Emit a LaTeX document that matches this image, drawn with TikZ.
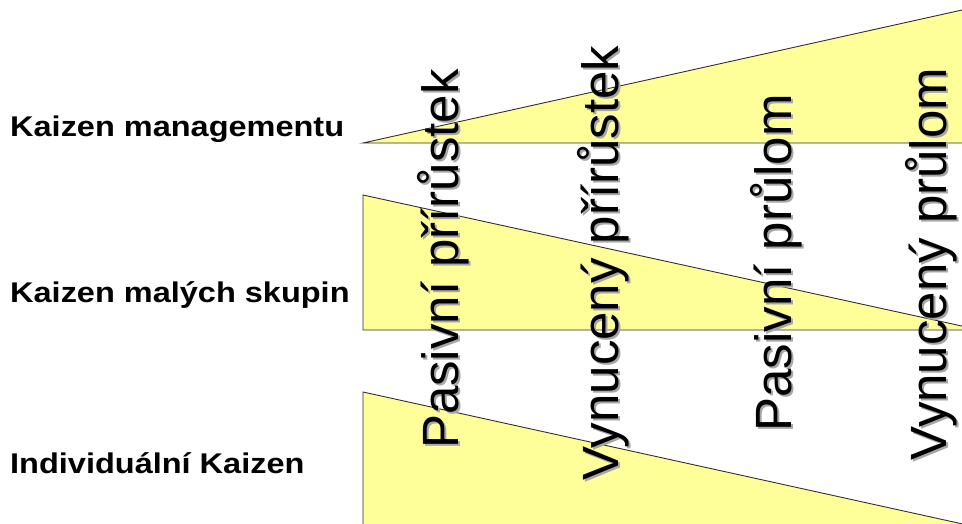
\documentclass[tikz,border=0pt]{standalone}
\usepackage{fontspec}
\setmainfont{Liberation Sans}
\definecolor{wedgefill}{HTML}{FFFF99}
\definecolor{wedgeedge}{HTML}{303030}
\begin{document}
\begin{tikzpicture}[x=1pt,y=-1pt,
  wedge/.style={fill=wedgefill, draw=wedgeedge, line width=0.9pt, line join=miter},
  rowlabel/.style={anchor=base west, inner sep=0pt, font=\fontsize{28.5}{32}\selectfont\bfseries},
  vtext/.style={anchor=base, rotate=90, inner sep=0pt, font=\fontsize{51}{60}\selectfont},
  vshadow/.style={vtext, text=black!35}]
\useasboundingbox (0,0) rectangle (962,524);
\fill[white] (0,0) rectangle (962,524);

% three wedges, cut off at the right and bottom edges
\begin{scope}
  \clip (0,0) rectangle (962,524);
  \draw[wedge] (363,143) -- (1000,1.6) -- (1000,143) -- cycle;
  \draw[wedge] (363,195) -- (363,330) -- (980,330) -- cycle;
  \draw[wedge] (363,392) -- (363,530) -- (990,530) -- cycle;
\end{scope}

% row labels
\node[rowlabel] (kmgmt)  at (10,137) {\scalebox{1.14}[1]{Kaizen managementu}};
\node[rowlabel] (kgroup) at (10,302) {\scalebox{1.14}[1]{Kaizen malých skupin}};
\node[rowlabel] (kind)   at (10,473) {\scalebox{1.14}[1]{Individuální Kaizen}};

% vertical column headings with a soft drop shadow
\node[vshadow] (spp)  at (460,261) {Pasivní přírůstek};
\node[vtext]   (pp)   at (458,259) {Pasivní přírůstek};
\node[vshadow] (svp)  at (620,265) {Vynucený přírůstek};
\node[vtext]   (vp)   at (618,263) {Vynucený přírůstek};
\node[vshadow] (sppr) at (793,265) {Pasivní průlom};
\node[vtext]   (ppr)  at (791,263) {Pasivní průlom};
\node[vshadow] (svpr) at (948,266) {Vynucený průlom};
\node[vtext]   (vpr)  at (946,264) {Vynucený průlom};
\end{tikzpicture}
\end{document}
